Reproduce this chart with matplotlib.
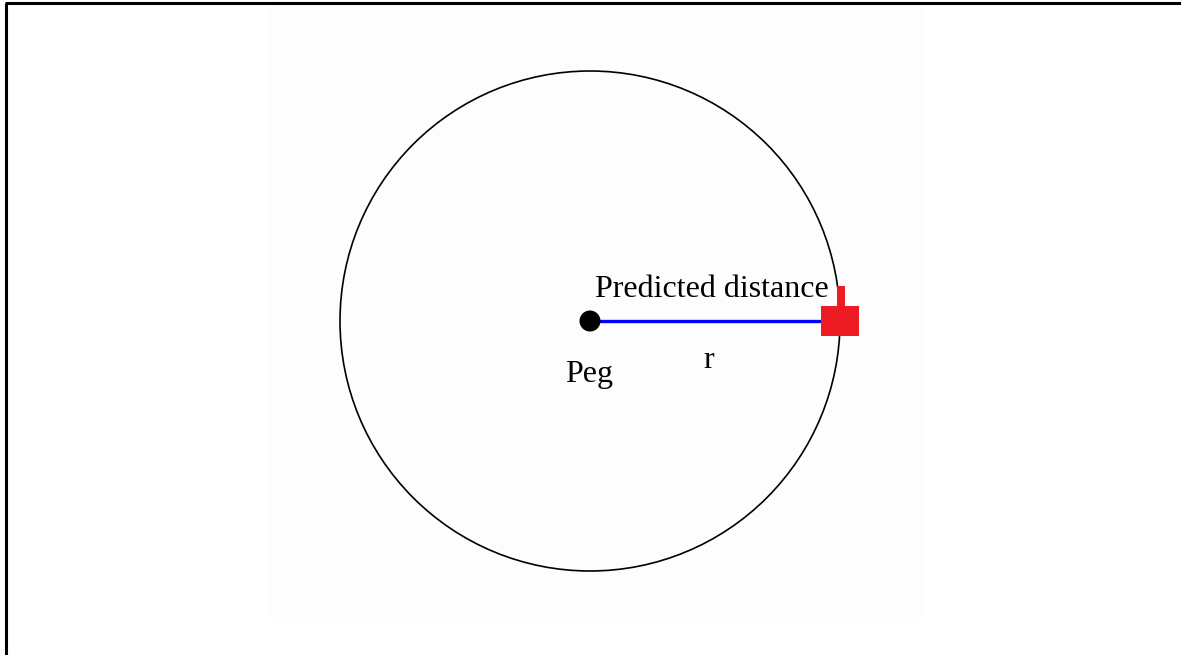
import matplotlib
matplotlib.use("Agg")
import matplotlib.pyplot as plt
from matplotlib.patches import Circle, Rectangle

# Diagram values (pixel units of the original picture)
peg_center = (590, 321)
radius = 250
labels = ["Predicted distance", "Peg", "r"]
label_pos = [(595, 297), (565, 382), (709, 368)]
label_ha = ["left", "left", "center"]

W, H = 1181, 655
fig = plt.figure(figsize=(W / 100, H / 100), dpi=100)
ax = fig.add_axes([0, 0, 1, 1])
ax.set_xlim(0, W)
ax.set_ylim(H, 0)
ax.axis("off")
fig.patch.set_facecolor("white")

# faint background panel
ax.add_patch(Rectangle((267, 4), 655, 614, facecolor="#fdfdfd", edgecolor="none", zorder=0))

# frame lines (top and left)
ax.plot([5, W], [3, 3], color="black", lw=2.2, solid_capstyle="butt", zorder=5)
ax.plot([5.5, 5.5], [3, H], color="black", lw=2.2, solid_capstyle="butt", zorder=5)

cx, cy = peg_center
# circle
ax.add_patch(Circle((cx, cy), radius, facecolor="none", edgecolor="black", lw=1.2, zorder=2))

# radius line
ax.plot([cx, cx + radius - 19], [cy, cy], color="#0000ff", lw=2.4, solid_capstyle="butt", zorder=3)

# peg
ax.add_patch(Circle((cx, cy), 10.5, facecolor="black", edgecolor="none", zorder=4))

# red marker: square plus small tick above
ax.add_patch(Rectangle((cx + radius - 19, cy - 15), 38, 30, facecolor="#ed1c24", edgecolor="none", zorder=4))
ax.add_patch(Rectangle((cx + radius - 3, cy - 35), 8, 20, facecolor="#ed1c24", edgecolor="none", zorder=4))

for txt, (x, y), ha in zip(labels, label_pos, label_ha):
    ax.text(x, y, txt, ha=ha, va="baseline", fontsize=23,
            family=["Liberation Serif", "DejaVu Serif"], color="black", zorder=6)

fig.savefig("out.png", dpi=100)
